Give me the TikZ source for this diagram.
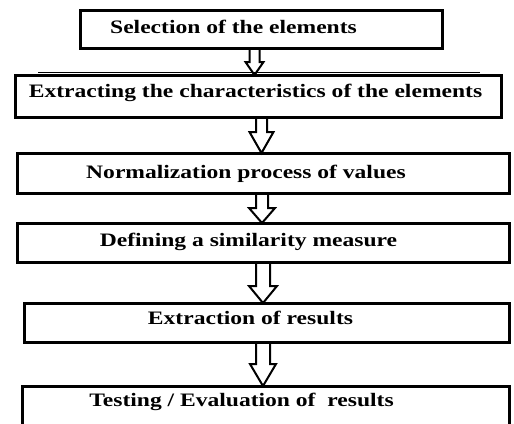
\documentclass[tikz,border=0pt]{standalone}
\usepackage{fontspec}
\usetikzlibrary{calc}
\newfontfamily\boxfont[FakeStretch=1.24]{Liberation Serif}
\newcommand{\hollowarrow}[6]{%
  \draw[blockarrow]
    ($(#1.south -| #3,0)+(-#4,0)$) --
    ($(#2.north -| #3,0)+(-#4,-#6)$) --
    ($(#2.north -| #3,0)+(-#5,-#6)$) --
    (#2.north -| #3,0) --
    ($(#2.north -| #3,0)+(#5,-#6)$) --
    ($(#2.north -| #3,0)+(#4,-#6)$) --
    ($(#1.south -| #3,0)+(#4,0)$);}
\begin{document}
\begin{tikzpicture}[x=1pt,y=-1pt,
  box/.style={draw, line width=3pt, outer sep=0pt, inner sep=0pt},
  lbl/.style={font=\boxfont\bfseries\fontsize{19}{19}\selectfont, anchor=base, inner sep=0pt},
  blockarrow/.style={draw, line width=2pt, line join=miter}]
\useasboundingbox (0,0) rectangle (514,423);
\clip (0,0) rectangle (514,423);
% boxes
\node[box, minimum width=362pt, minimum height=38pt] (b1) at (261,29) {};
\node[box, minimum width=486pt, minimum height=42pt] (b2) at (258,96) {};
\node[box, minimum width=492pt, minimum height=40pt] (b3) at (263,173) {};
\node[box, minimum width=492pt, minimum height=39pt] (b4) at (263,242.5) {};
\node[box, minimum width=485pt, minimum height=39pt] (b5) at (266.5,322.5) {};
\node[box, minimum width=487pt, minimum height=60pt] (b6) at (265.5,416) {};
\draw[line width=1.5pt] (38,72.5) -- (480,72.5);
% labels
\node[lbl] (t1) at (233.5,33) {Selection of the elements};
\node[lbl] (t2) at (255.5,97) {Extracting the characteristics of the elements};
\node[lbl] (t3) at (246,178) {Normalization process of values};
\node[lbl] (t4) at (248.5,246) {Defining a similarity measure};
\node[lbl] (t5) at (250.5,324) {Extraction of results};
\node[lbl] (t6) at (241.5,406) {Testing / Evaluation of\ \ results};
% arrows
\hollowarrow{b1}{b2}{254.5}{5}{9}{13}
\hollowarrow{b2}{b3}{261.5}{5.5}{12}{21}
\hollowarrow{b3}{b4}{262}{6}{13}{15}
\hollowarrow{b4}{b5}{263}{7}{14}{17}
\hollowarrow{b5}{b6}{263}{7}{13}{22}
\end{tikzpicture}
\end{document}
